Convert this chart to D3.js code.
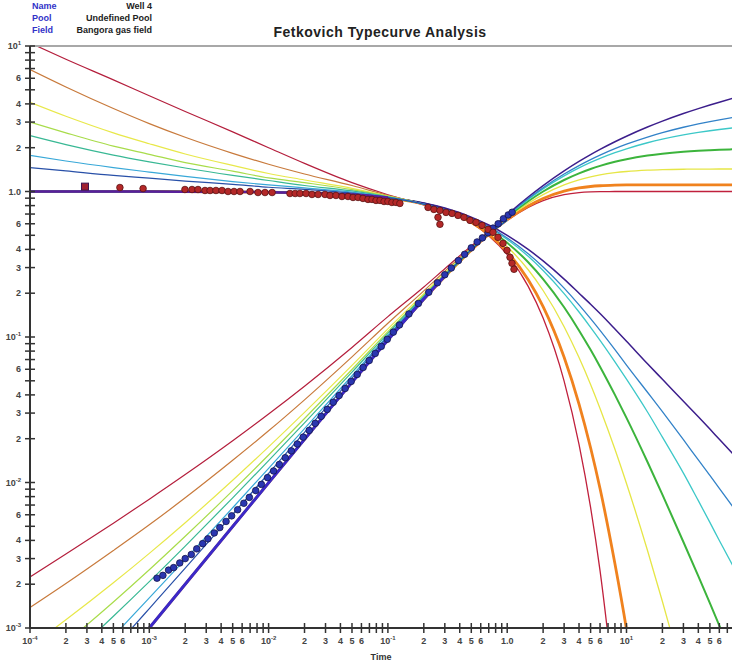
<!DOCTYPE html>
<html><head><meta charset="utf-8">
<script src="https://cdn.jsdelivr.net/npm/d3@7"></script>
<style>body{margin:0;background:#fff}svg{display:block}text{font-family:Arial,"Liberation Sans",sans-serif}</style>
</head><body><svg id="c" width="732" height="662"></svg>
<script>
// ---- data ----
const headerLabels = ["Name", "Pool", "Field"];
const headerValues = ["Well 4", "Undefined Pool", "Bangora gas field"];
const title = "Fetkovich Typecurve Analysis";
const xTitle = "Time";

// transient stems (reD = 10,20,50,100,200,1000,10000)
const tGrid = [1e-4, 2e-4, 5e-4, 1e-3, 2e-3, 5e-3, 1e-2, 2e-2, 5e-2, 0.1, 0.2, 0.3, 0.5, 0.7, 1.0];
const rateReD10    = [10.5, 8.1, 5.85, 4.55, 3.55, 2.57, 2.0, 1.56, 1.15, 0.95, 0.81, 0.73];
const rateReD20    = [6.89, 5.23, 3.72, 2.93, 2.36, 1.83, 1.54, 1.32, 1.10, 0.94, 0.815, 0.735];
const rateReD50    = [4.10, 3.29, 2.53, 2.13, 1.81, 1.51, 1.33, 1.20, 1.05, 0.93, 0.815, 0.738];
const rateReD100   = [3.00, 2.53, 2.05, 1.80, 1.58, 1.38, 1.24, 1.15, 1.03, 0.925, 0.817, 0.74];
const rateReD200   = [2.42, 2.10, 1.78, 1.60, 1.45, 1.29, 1.19, 1.10, 1.01, 0.92, 0.818, 0.74];
const rateReD1000  = [1.77, 1.62, 1.46, 1.36, 1.27, 1.17, 1.11, 1.06, 0.99, 0.915, 0.818, 0.741];
const rateReD10000 = [1.46, 1.385, 1.29, 1.235, 1.18, 1.12, 1.07, 1.035, 0.975, 0.91, 0.818, 0.741];
const cumReD10    = [0.002243, 0.003222, 0.005253, 0.007675, 0.01133, 0.01935, 0.02955, 0.04593, 0.0848, 0.138, 0.2206, 0.2947, 0.4226, 0.5272, 0.6498];
const cumReD20    = [0.001382, 0.002021, 0.003409, 0.005119, 0.007847, 0.01421, 0.02266, 0.037, 0.07303, 0.1242, 0.2075, 0.2829, 0.4129, 0.5193, 0.6439];
const cumReD50    = [0.000746, 0.001138, 0.002044, 0.003258, 0.005292, 0.010354, 0.01759, 0.03036, 0.06385, 0.1137, 0.1983, 0.2745, 0.406, 0.5137, 0.6397];
const cumReD100   = [0.000498, 0.000794, 0.001509, 0.002513, 0.00427, 0.008787, 0.01546, 0.02754, 0.05983, 0.1089, 0.1939, 0.2706, 0.4028, 0.511, 0.6378];
const cumReD200   = [0.00036, 0.000598, 0.001204, 0.002082, 0.003657, 0.00784, 0.01413, 0.02568, 0.05732, 0.106, 0.1913, 0.2683, 0.4009, 0.5095, 0.6366];
const cumReD1000  = [0.000224, 0.000401, 0.000879, 0.001609, 0.002963, 0.006708, 0.01252, 0.02346, 0.05418, 0.1024, 0.188, 0.2653, 0.3985, 0.5075, 0.6351];
const cumReD10000 = [0.000165, 0.00031, 0.000718, 0.00136, 0.002579, 0.006046, 0.01155, 0.02208, 0.05224, 0.1004, 0.1862, 0.2637, 0.3971, 0.5064, 0.6343];

// depletion stems b = 0, 0.1, 0.3, 0.5, 0.7, 0.8, 1
const bGrid = [1e-4, 1e-3, 1e-2, 0.05, 0.1, 0.2, 0.3, 0.5, 0.7, 1, 1.5, 2, 3, 4, 5, 6, 8, 10, 15, 20, 30, 40, 50, 60, 80];
const rateB00 = [1, 0.999, 0.990, 0.951, 0.905, 0.819, 0.741, 0.607, 0.497, 0.368, 0.223, 0.135, 0.0498, 0.0183, 0.00674, 0.00248, 0.000335];
const rateB01 = [1, 0.9999, 0.990, 0.951, 0.905, 0.820, 0.744, 0.614, 0.508, 0.386, 0.247, 0.1615, 0.0725, 0.0346, 0.01734, 0.00909, 0.00276, 0.000977, 0.0001];
const rateB03 = [1, 0.9997, 0.990, 0.953, 0.906, 0.8235, 0.7503, 0.6276, 0.5297, 0.4171, 0.2898, 0.2087, 0.1177, 0.0722, 0.0472, 0.0323, 0.01692, 0.00984, 0.00341, 0.00152, 0.000464];
const rateB05 = [1, 0.9995, 0.990, 0.952, 0.907, 0.826, 0.756, 0.64, 0.549, 0.444, 0.3265, 0.25, 0.16, 0.111, 0.0816, 0.0625, 0.04, 0.0278, 0.01384, 0.00826, 0.0039, 0.00227, 0.00148, 0.00104, 0.000595];
const rateB07 = [1, 0.9993, 0.990, 0.9521, 0.9079, 0.8293, 0.7616, 0.6513, 0.5657, 0.4686, 0.3586, 0.2863, 0.1986, 0.1485, 0.1166, 0.0949, 0.0675, 0.0513, 0.0305, 0.0205, 0.0116, 0.0075, 0.00532, 0.00399, 0.00257];
const rateB08 = [1, 0.9993, 0.9901, 0.9524, 0.9083, 0.8307, 0.7642, 0.6567, 0.5736, 0.4796, 0.3732, 0.3029, 0.2166, 0.1663, 0.1337, 0.1111, 0.0819, 0.0641, 0.0417, 0.0307, 0.0197, 0.01428, 0.01118, 0.0091, 0.00661];
const rateB10 = [1, 0.999, 0.9901, 0.9524, 0.9091, 0.8333, 0.7692, 0.6667, 0.5882, 0.5, 0.4, 0.3333, 0.25, 0.2, 0.168, 0.145, 0.1135, 0.0935, 0.0655, 0.0512, 0.0362, 0.0283, 0.0233, 0.0198, 0.0154];
const cumB00 = [1e-4, 0.0009995, 0.00995, 0.04877, 0.09516, 0.1813, 0.2592, 0.3935, 0.5034, 0.6321, 0.7769, 0.8647, 0.9502, 0.9817, 0.9933, 0.9975, 0.9997, 1, 1, 1, 1, 1, 1, 1, 1];
const cumB01 = [1e-4, 0.0009995, 0.00995, 0.04877, 0.0952, 0.1813, 0.2596, 0.3949, 0.5067, 0.6399, 0.7952, 0.8958, 1.0063, 1.0573, 1.0822, 1.0949, 1.1055, 1.109, 1.1107, 1.111, 1.111, 1.111, 1.111, 1.111, 1.111];
const cumB03 = [1e-4, 0.0009995, 0.00995, 0.04878, 0.0951, 0.1816, 0.2603, 0.3976, 0.513, 0.654, 0.8283, 0.9514, 1.1091, 1.2017, 1.2601, 1.2993, 1.3464, 1.3723, 1.4018, 1.4133, 1.422, 1.4245, 1.4264, 1.4272, 1.428];
const cumB05 = [1e-4, 0.0009995, 0.00995, 0.04878, 0.0952, 0.1818, 0.2609, 0.4, 0.5185, 0.6667, 0.8571, 1.0, 1.2, 1.3333, 1.4286, 1.5, 1.6, 1.6667, 1.7647, 1.8182, 1.875, 1.9048, 1.9231, 1.9355, 1.9512];
const cumB07 = [1e-4, 0.0009995, 0.00995, 0.04879, 0.0953, 0.1819, 0.2613, 0.4023, 0.5237, 0.678, 0.8827, 1.0427, 1.2807, 1.4523, 1.5837, 1.689, 1.8487, 1.966, 2.163, 2.289, 2.447, 2.546, 2.616, 2.668, 2.744];
const cumB08 = [1e-4, 0.0009995, 0.00995, 0.04879, 0.0953, 0.182, 0.2618, 0.4034, 0.526, 0.6835, 0.8945, 1.0625, 1.318, 1.5075, 1.6565, 1.778, 1.9685, 2.113, 2.3665, 2.5375, 2.764, 2.914, 3.024, 3.11, 3.239];
const cumB10 = [1e-4, 0.0009995, 0.00995, 0.04879, 0.0953, 0.1823, 0.2624, 0.4055, 0.5306, 0.6931, 0.9163, 1.0986, 1.3863, 1.6094, 1.7918, 1.9459, 2.1972, 2.3979, 2.7726, 3.0445, 3.434, 3.7136, 3.9318, 4.1109, 4.3945];

// measured data: rate (red) and cumulative (blue)
const rateT = [2.89e-4, 5.67e-4, 8.87e-4, 1.99e-3, 2.28e-3, 2.56e-3, 2.93e-3, 3.23e-3, 3.62e-3, 4.07e-3, 4.57e-3, 5.13e-3, 5.76e-3, 6.99e-3, 8.15e-3, 9.33e-3, 1.07e-2, 1.51e-2, 1.67e-2, 1.83e-2, 2.06e-2, 2.31e-2, 2.60e-2, 2.97e-2, 3.27e-2, 3.67e-2, 4.12e-2, 4.63e-2, 5.10e-2, 5.62e-2, 6.18e-2, 6.81e-2, 7.36e-2, 7.95e-2, 8.59e-2, 9.28e-2, 0.100, 0.108, 0.117, 0.126, 0.217, 0.243, 0.263, 0.273, 0.273, 0.307, 0.345, 0.387, 0.434, 0.488, 0.548, 0.615, 0.691, 0.760, 0.837, 0.922, 0.996, 1.056, 1.097, 1.140];
const rateV = [1.08, 1.065, 1.048, 1.032, 1.032, 1.032, 1.016, 1.016, 1.016, 1.016, 1.0, 1.0, 1.0, 1.0, 0.984, 0.984, 0.984, 0.969, 0.969, 0.969, 0.969, 0.954, 0.954, 0.954, 0.939, 0.939, 0.924, 0.924, 0.91, 0.91, 0.896, 0.882, 0.882, 0.868, 0.868, 0.854, 0.854, 0.841, 0.841, 0.828, 0.777, 0.753, 0.664, 0.741, 0.595, 0.718, 0.707, 0.685, 0.664, 0.633, 0.613, 0.585, 0.549, 0.524, 0.484, 0.44, 0.394, 0.353, 0.321, 0.292];
const cumT = [1.16e-3, 1.3e-3, 1.45e-3, 1.6e-3, 1.8e-3, 2.0e-3, 2.25e-3, 2.5e-3, 2.8e-3, 3.1e-3, 3.5e-3, 3.9e-3, 4.4e-3, 4.9e-3, 5.5e-3, 6.2e-3, 6.9e-3, 7.8e-3, 8.7e-3, 9.8e-3, 0.011, 0.0123, 0.0138, 0.0155, 0.0174, 0.0195, 0.0219, 0.0246, 0.0276, 0.031, 0.0348, 0.039, 0.0438, 0.0492, 0.0553, 0.062, 0.0697, 0.0783, 0.088, 0.0988, 0.111, 0.125, 0.15, 0.18, 0.22, 0.26, 0.3, 0.34, 0.39, 0.44, 0.5, 0.56, 0.62, 0.69, 0.76, 0.84, 0.93, 1.02, 1.1];
const cumV = [0.0022, 0.0023, 0.0025, 0.0026, 0.0028, 0.003, 0.0032, 0.0035, 0.0038, 0.0041, 0.0045, 0.0049, 0.0054, 0.0059, 0.0065, 0.0072, 0.0079, 0.0088, 0.0097, 0.0108, 0.012, 0.0133, 0.0148, 0.0165, 0.0184, 0.0205, 0.0228, 0.0255, 0.0285, 0.0318, 0.0356, 0.0396, 0.0443, 0.0495, 0.0553, 0.0617, 0.0689, 0.0771, 0.0862, 0.0964, 0.108, 0.121, 0.144, 0.17, 0.203, 0.236, 0.268, 0.298, 0.335, 0.37, 0.41, 0.45, 0.48, 0.52, 0.56, 0.6, 0.65, 0.69, 0.72];

const xMajorTicks = [1e-4, 1e-3, 1e-2, 1e-1, 1, 10];
const yMajorTicks = [1e-3, 1e-2, 1e-1, 1, 10];
const xMinorLabels = [2, 3, 4, 5, 6];
const yMinorLabels = [2, 3, 4, 6];

// ---- drawing ----
const svg = d3.select("#c");
const x = d3.scaleLog().domain([1e-4, 100]).range([30, 30 + 119.3 * 6]);
const y = d3.scaleLog().domain([1e-3, 10]).range([628, 46]);
const L = 30, R = 732, T = 46, B = 628;

svg.append("defs").append("clipPath").attr("id", "clip")
  .append("rect").attr("x", L).attr("y", T).attr("width", R - L).attr("height", B - T);

const pairs = (ts, vs) => ts.map((t, i) => [t, vs[i]]).filter(d => d[1] != null && d[1] !== undefined);
const line = d3.line().x(d => x(d[0])).y(d => y(d[1])).curve(d3.curveMonotoneX);
const g = svg.append("g").attr("clip-path", "url(#clip)");

const stemColors = ["#b41e3c", "#c87a3c", "#e8e84a", "#a8dc4a", "#38b894", "#38a8d8", "#2850a8"];
const rateStems = [rateReD10, rateReD20, rateReD50, rateReD100, rateReD200, rateReD1000, rateReD10000];
const cumStems = [cumReD10, cumReD20, cumReD50, cumReD100, cumReD200, cumReD1000, cumReD10000];
const bColors = ["#c0203c", "#f0821e", "#e6e646", "#3cb43c", "#3cc8c8", "#3282c8", "#3c1e8c"];
const bWidths = [1.3, 2.8, 1.3, 2, 1.3, 1.3, 1.5];
const bRate = [rateB00, rateB01, rateB03, rateB05, rateB07, rateB08, rateB10];
const bCum = [cumB00, cumB01, cumB03, cumB05, cumB07, cumB08, cumB10];

bRate.forEach((v, i) => g.append("path").attr("d", line(pairs(bGrid, v))).attr("fill", "none")
  .attr("stroke", bColors[i]).attr("stroke-width", bWidths[i]));
bCum.forEach((v, i) => g.append("path").attr("d", line(pairs(bGrid, v))).attr("fill", "none")
  .attr("stroke", bColors[i]).attr("stroke-width", bWidths[i]));
rateStems.forEach((v, i) => g.append("path").attr("d", line(pairs(tGrid, v))).attr("fill", "none")
  .attr("stroke", stemColors[i]).attr("stroke-width", 1.2));
cumStems.forEach((v, i) => g.append("path").attr("d", line(pairs(tGrid, v))).attr("fill", "none")
  .attr("stroke", stemColors[i]).attr("stroke-width", 1.2));
// early common portion drawn heavy
g.append("path").attr("d", line(pairs(bGrid.slice(0, 5), rateB10.slice(0, 5)))).attr("fill", "none")
  .attr("stroke", "#5a1e9c").attr("stroke-width", 2.5);
g.append("path").attr("d", line(pairs(bGrid.slice(0, 7), cumB10.slice(0, 7)))).attr("fill", "none")
  .attr("stroke", "#3c28c8").attr("stroke-width", 3);

// data points
g.selectAll("circle.cum").data(pairs(cumT, cumV)).enter().append("circle")
  .attr("cx", d => x(d[0])).attr("cy", d => y(d[1])).attr("r", 3.3)
  .attr("fill", "#2a36b0").attr("stroke", "#14144a").attr("stroke-width", 0.8);
const rp = pairs(rateT, rateV);
g.selectAll("circle.rate").data(rp.slice(1)).enter().append("circle")
  .attr("cx", d => x(d[0])).attr("cy", d => y(d[1])).attr("r", 3.3)
  .attr("fill", "#b42828").attr("stroke", "#5a1414").attr("stroke-width", 0.8);
g.append("rect").attr("x", x(rp[0][0]) - 3.5).attr("y", y(rp[0][1]) - 3.5).attr("width", 7).attr("height", 7)
  .attr("fill", "#a02030").attr("stroke", "#3c1450").attr("stroke-width", 1);

// frame
svg.append("line").attr("x1", L).attr("x2", R).attr("y1", T).attr("y2", T).attr("stroke", "#a8a8a8").attr("stroke-width", 2);
svg.append("line").attr("x1", L).attr("x2", L).attr("y1", T).attr("y2", B + 1).attr("stroke", "#333").attr("stroke-width", 2);
svg.append("line").attr("x1", L - 1).attr("x2", R).attr("y1", B).attr("y2", B).attr("stroke", "#333").attr("stroke-width", 2);

const sup = (sel, base, exp) => { sel.append("tspan").text(base); sel.append("tspan").attr("font-size", 6).attr("dy", -4).text(exp); };
const fmtMajor = (v, sel) => { if (v === 1) { sel.text("1.0"); } else { sel.text(""); sup(sel, "10", String(Math.round(Math.log10(v)))); } };

// y ticks
const yTicks = [];
yMajorTicks.forEach(d => { for (let m = 1; m <= 9; m++) { const v = d * m; if (v <= 10.0001 && v >= 0.00099) yTicks.push([v, m]); } });
yTicks.forEach(([v, m]) => {
  svg.append("line").attr("x1", L - 5).attr("x2", L + 5).attr("y1", y(v)).attr("y2", y(v)).attr("stroke", "#333").attr("stroke-width", 1.5);
  if (m === 1) {
    const t = svg.append("text").attr("x", 21).attr("y", y(v) + 3).attr("text-anchor", "end").attr("font-size", 9).attr("font-weight", "bold").attr("fill", "#444");
    fmtMajor(v, t);
  } else if (yMinorLabels.includes(m)) {
    svg.append("text").attr("x", 21).attr("y", y(v) + 3).attr("text-anchor", "end").attr("font-size", 9).attr("font-weight", "bold").attr("fill", "#444").text(m);
  }
});
// x ticks
const xTicks = [];
xMajorTicks.forEach(d => { for (let m = 1; m <= 9; m++) { const v = d * m; if (x(v) <= R + 0.5) xTicks.push([v, m]); } });
xTicks.forEach(([v, m]) => {
  svg.append("line").attr("x1", x(v)).attr("x2", x(v)).attr("y1", B - 5).attr("y2", B + 5).attr("stroke", "#333").attr("stroke-width", 1.5);
  if (m === 1) {
    const t = svg.append("text").attr("x", x(v)).attr("y", 644).attr("text-anchor", "middle").attr("font-size", 9).attr("font-weight", "bold").attr("fill", "#444");
    fmtMajor(v, t);
  } else if (xMinorLabels.includes(m)) {
    svg.append("text").attr("x", x(v)).attr("y", 644).attr("text-anchor", "middle").attr("font-size", 9).attr("font-weight", "bold").attr("fill", "#444").text(m);
  }
});

// titles
svg.append("text").attr("x", 380).attr("y", 37).attr("text-anchor", "middle").attr("font-size", 14).attr("letter-spacing", 0.5).attr("font-weight", "bold").attr("fill", "#222").text(title);
svg.append("text").attr("x", 381).attr("y", 660).attr("text-anchor", "middle").attr("font-size", 9).attr("font-weight", "bold").attr("fill", "#333").text(xTitle);
headerLabels.forEach((s, i) => {
  svg.append("text").attr("x", 32).attr("y", 9 + 12 * i).attr("font-size", 9).attr("font-weight", "bold").attr("fill", "#3232c8").text(s);
  svg.append("text").attr("x", 152).attr("y", 9 + 12 * i).attr("text-anchor", "end").attr("font-size", 9).attr("font-weight", "bold").attr("fill", "#222").text(headerValues[i]);
});
</script></body></html>
